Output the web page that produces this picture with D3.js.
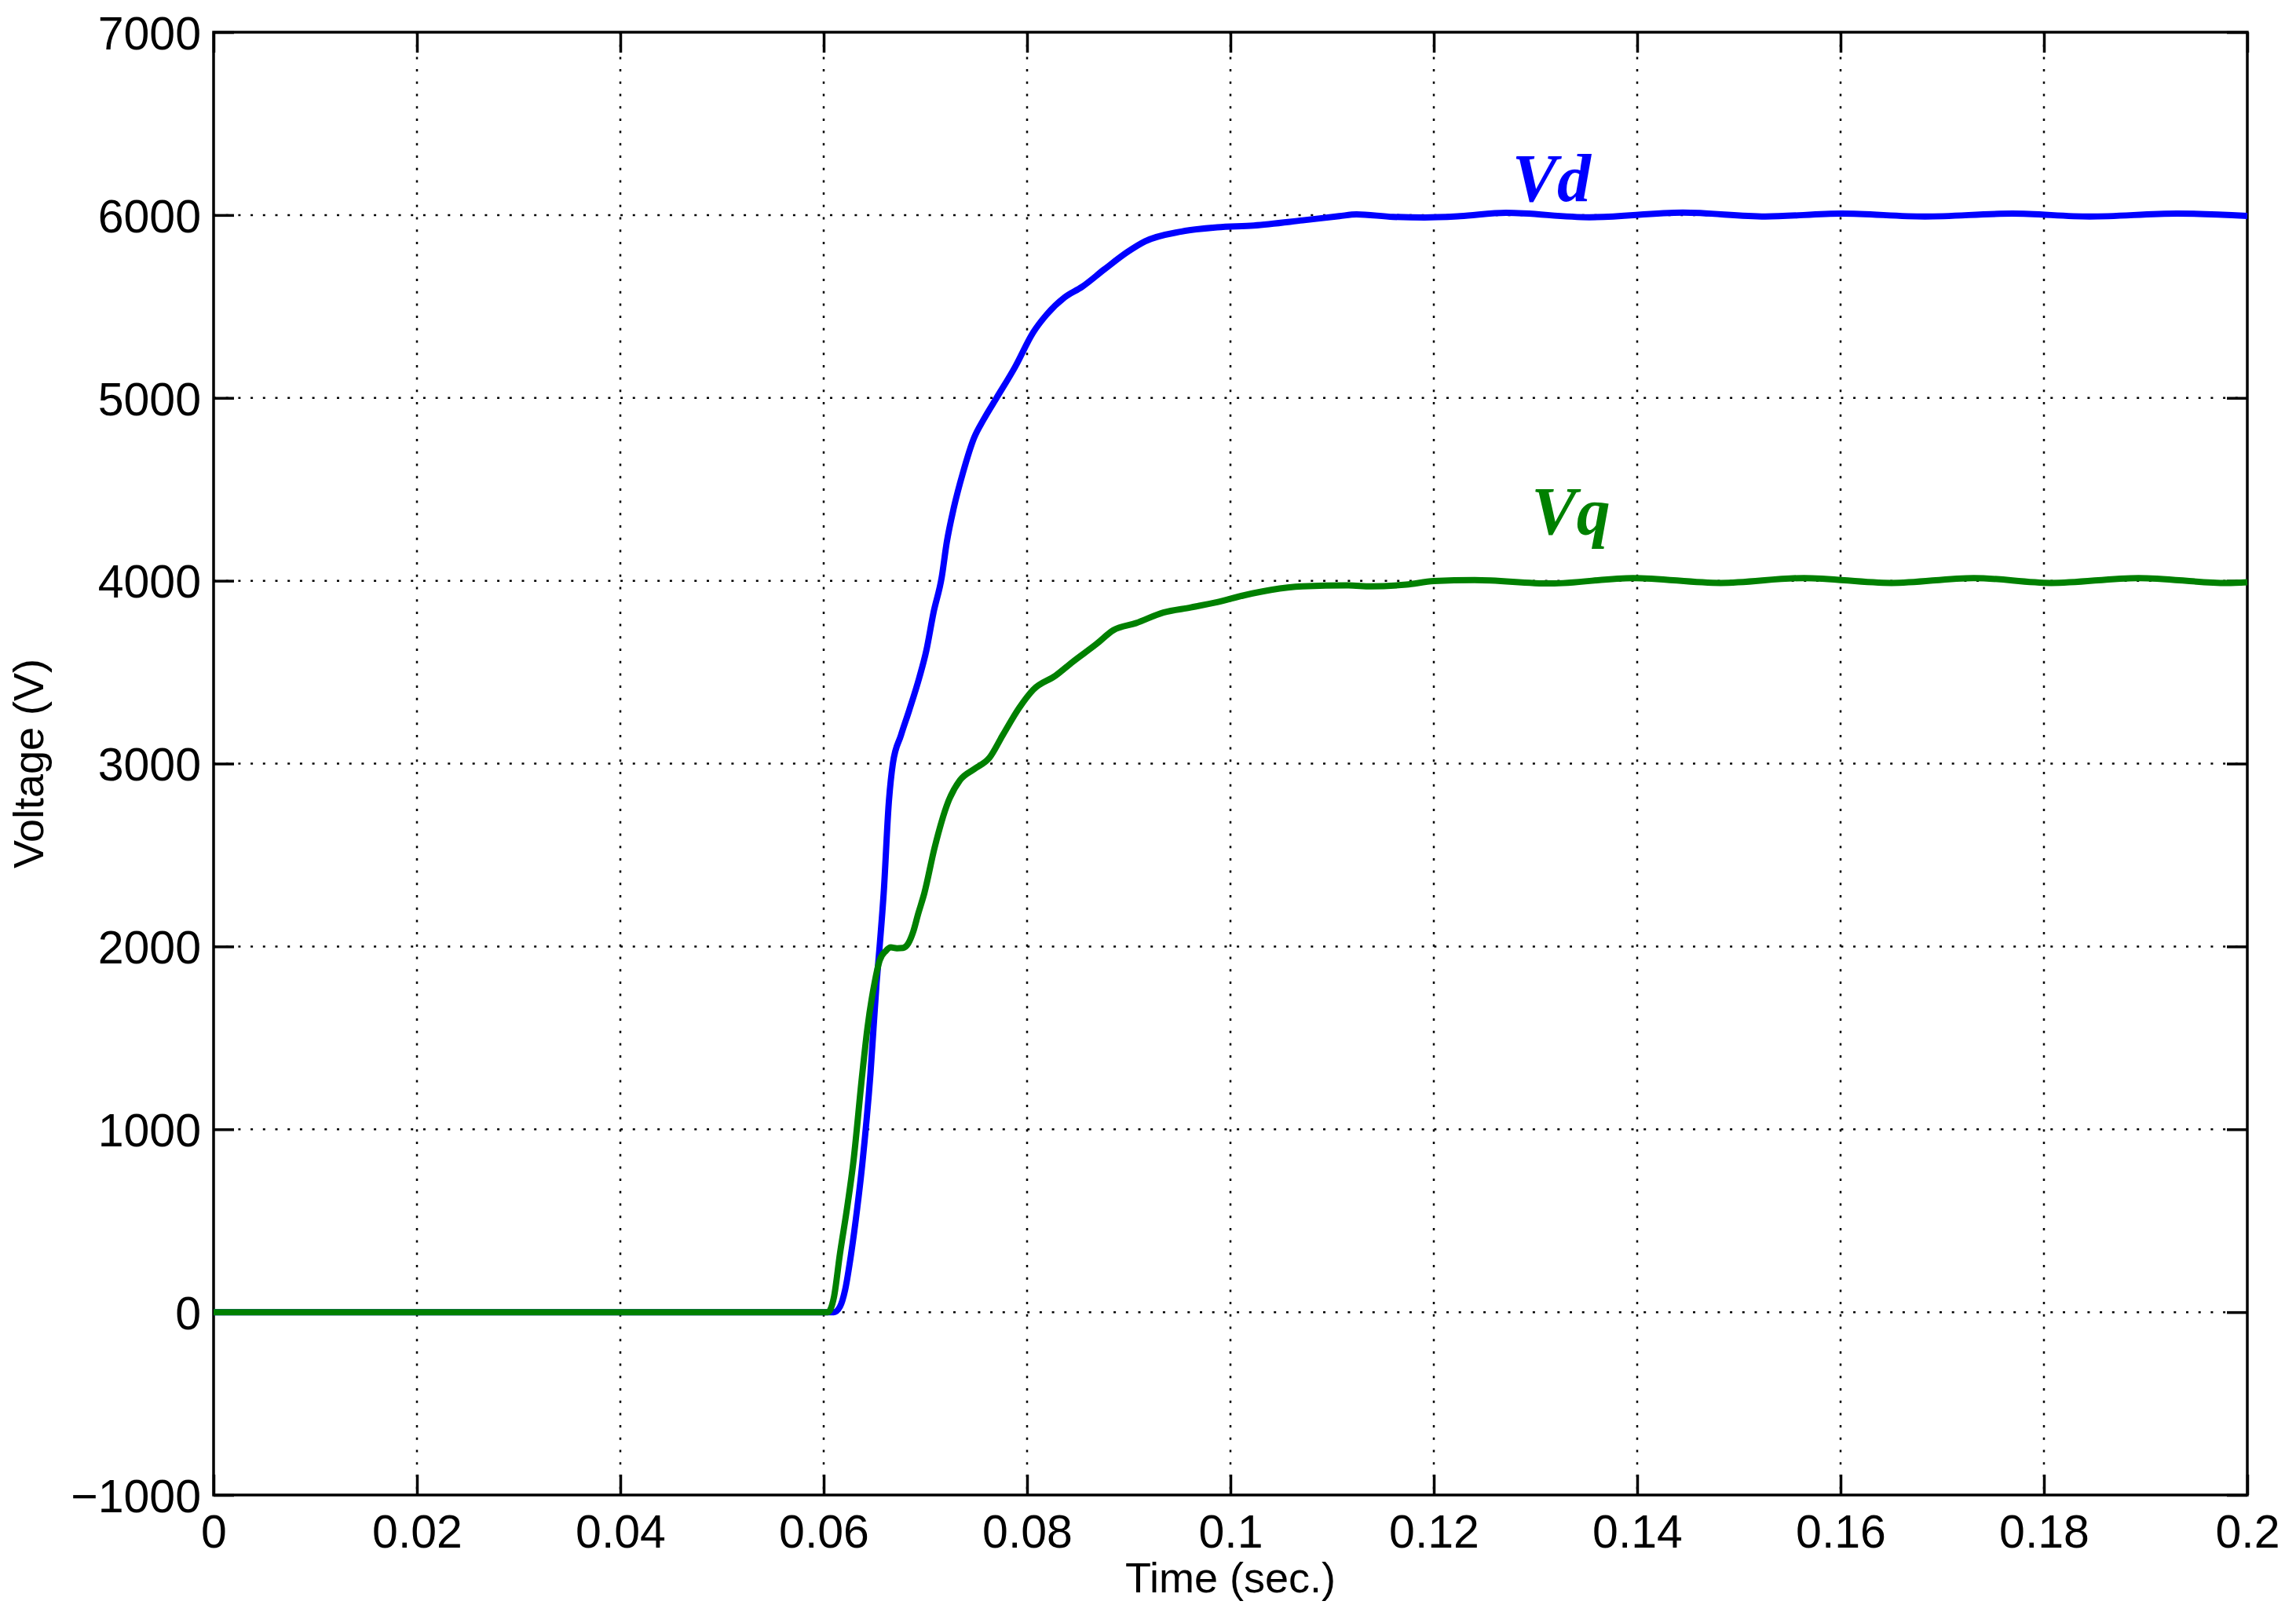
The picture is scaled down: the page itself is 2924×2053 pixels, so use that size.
<!DOCTYPE html>
<html>
<head>
<meta charset="utf-8">
<script src="https://cdn.jsdelivr.net/npm/d3@7"></script>
<style>
  body { margin: 0; background: #fff; }
  svg { display: block; }
</style>
</head>
<body>
<div id="dvBody"></div>
<script>
// tick values
var xTicks = [0, 0.02, 0.04, 0.06, 0.08, 0.1, 0.12, 0.14, 0.16, 0.18, 0.2];
var yTicks = [-1000, 0, 1000, 2000, 3000, 4000, 5000, 6000, 7000];

// Vd series (time in s, voltage in V)
var vdTime = [0, 0.0610, 0.0616, 0.0621, 0.0627, 0.0633, 0.0638, 0.0646, 0.0652, 0.0655,
  0.0659, 0.0664, 0.0668, 0.0676, 0.0684, 0.0694, 0.0701, 0.0708, 0.0716, 0.0721,
  0.0728, 0.0737, 0.0748, 0.0757, 0.0770, 0.0788, 0.0806, 0.0819, 0.0837, 0.0854,
  0.0876, 0.0899, 0.0916, 0.0952, 0.0987, 0.1023, 0.1071, 0.1107, 0.1124, 0.1160,
  0.1191, 0.1226, 0.1271, 0.1353, 0.1445, 0.1526, 0.1601, 0.1683, 0.1769, 0.1845,
  0.1931, 0.2];
var vdValue = [0, 0, 30, 120, 320, 570, 813, 1306, 1800, 2000,
  2292, 2785, 3000, 3155, 3290, 3470, 3620, 3826, 4017, 4209,
  4400, 4592, 4783, 4879, 5000, 5167, 5358, 5454, 5550, 5607,
  5703, 5799, 5856, 5910, 5933, 5943, 5971, 5994, 6004, 5990,
  5987, 5994, 6012, 5988, 6013, 5992, 6008, 5992, 6008, 5992,
  6008, 5995];

// Vq series
var vqTime = [0, 0.0604, 0.0610, 0.0616, 0.0623, 0.0629, 0.0638, 0.0643, 0.0650, 0.0655,
  0.0661, 0.0666, 0.0672, 0.0678, 0.0683, 0.0688, 0.0693, 0.0699, 0.0709, 0.0722,
  0.0734, 0.0748, 0.0763, 0.0776, 0.0792, 0.0806, 0.0828, 0.0845, 0.0868, 0.0885,
  0.0907, 0.0934, 0.0961, 0.0987, 0.1014, 0.1040, 0.1071, 0.1116, 0.1138, 0.1173,
  0.1200, 0.1240, 0.1315, 0.1396, 0.1482, 0.1564, 0.1650, 0.1731, 0.1807, 0.1893,
  0.1980, 0.2];
var vqValue = [0, 0, 80, 320, 570, 813, 1306, 1553, 1800, 1923,
  1975, 1995, 1990, 1992, 2015, 2080, 2180, 2292, 2539, 2785,
  2909, 2970, 3032, 3155, 3303, 3404, 3481, 3557, 3653, 3730,
  3768, 3826, 3854, 3883, 3921, 3950, 3969, 3975, 3969, 3979,
  3998, 4004, 3985, 4015, 3988, 4015, 3988, 4015, 3988, 4015,
  3988, 3992];

var seriesNames = ["Vd", "Vq"];
var seriesColors = ["#0000ff", "#008000"];

var W = 2924, H = 2053;
var margin = {top: 41, right: 62, bottom: 149, left: 272},
    width = W - margin.left - margin.right,
    height = H - margin.top - margin.bottom;

var svg = d3.select("#dvBody")
  .append("svg")
  .attr("width", W)
  .attr("height", H)
  .append("g")
  .attr("transform", "translate(" + margin.left + "," + margin.top + ")");

var x = d3.scaleLinear().domain([0, 0.2]).range([0, width]);
var y = d3.scaleLinear().domain([-1000, 7000]).range([height, 0]);

// dotted grid
svg.append("g")
  .selectAll("line")
  .data(xTicks.slice(1, -1))
  .join("line")
  .attr("x1", d => x(d)).attr("x2", d => x(d))
  .attr("y1", 0).attr("y2", height)
  .attr("stroke", "#000")
  .attr("stroke-width", 2.5)
  .attr("stroke-dasharray", "3,12.7");

svg.append("g")
  .selectAll("line")
  .data(yTicks.slice(1, -1))
  .join("line")
  .attr("y1", d => y(d)).attr("y2", d => y(d))
  .attr("x1", 0).attr("x2", width)
  .attr("stroke", "#000")
  .attr("stroke-width", 2.5)
  .attr("stroke-dasharray", "3,12.7");

// axes, ticks inside on all sides
var tickLen = 26;
var fmtY = d => d < 0 ? "\u2212" + Math.abs(d) : String(d);

var axB = svg.append("g").attr("transform", "translate(0," + height + ")")
  .call(d3.axisBottom(x).tickValues(xTicks).tickSize(-tickLen).tickPadding(25).tickFormat(d => String(+d.toFixed(2))));
var axT = svg.append("g")
  .call(d3.axisTop(x).tickValues(xTicks).tickSize(-tickLen).tickFormat(""));
var axL = svg.append("g")
  .call(d3.axisLeft(y).tickValues(yTicks).tickSize(-tickLen).tickPadding(16).tickFormat(fmtY));
var axR = svg.append("g").attr("transform", "translate(" + width + ",0)")
  .call(d3.axisRight(y).tickValues(yTicks).tickSize(-tickLen).tickFormat(""));

[axB, axT, axL, axR].forEach(function(a) {
  a.select(".domain").remove();
  a.selectAll("line").attr("stroke", "#000").attr("stroke-width", 3.5);
  a.selectAll("text")
    .attr("fill", "#000")
    .style("font-family", "'Liberation Sans', Arial, sans-serif")
    .style("font-size", "59px");
});
axL.selectAll("text").attr("dy", "0.36em");
axB.selectAll("text").attr("dy", "0.71em");

// box
svg.append("rect")
  .attr("x", 0).attr("y", 0)
  .attr("width", width).attr("height", height)
  .attr("fill", "none")
  .attr("stroke", "#000")
  .attr("stroke-width", 3.5);

// curves
var line = d3.line()
  .x(d => x(d[0]))
  .y(d => y(d[1]))
  .curve(d3.curveMonotoneX);

var series = [
  d3.zip(vdTime, vdValue),
  d3.zip(vqTime, vqValue)
];

svg.append("g")
  .selectAll("path")
  .data(series)
  .join("path")
  .attr("fill", "none")
  .attr("stroke", (d, i) => seriesColors[i])
  .attr("stroke-width", 8)
  .attr("stroke-linejoin", "round")
  .attr("d", line);

// curve labels
var labelPos = [[0.1277, 6077], [0.1296, 4256]];
svg.append("g")
  .selectAll("text")
  .data(seriesNames)
  .join("text")
  .attr("x", (d, i) => x(labelPos[i][0]))
  .attr("y", (d, i) => y(labelPos[i][1]))
  .attr("fill", (d, i) => seriesColors[i])
  .style("font-family", "'Liberation Serif', 'Times New Roman', serif")
  .style("font-weight", "bold")
  .style("font-style", "italic")
  .style("font-size", "86px")
  .text(d => d);

// axis titles
svg.append("text")
  .attr("x", width / 2)
  .attr("y", 1987)
  .attr("text-anchor", "middle")
  .style("font-family", "'Liberation Sans', Arial, sans-serif")
  .style("font-size", "54px")
  .text("Time (sec.)");

svg.append("text")
  .attr("transform", "translate(" + (55 - margin.left) + "," + (height / 2) + ") rotate(-90)")
  .attr("text-anchor", "middle")
  .style("font-family", "'Liberation Sans', Arial, sans-serif")
  .style("font-size", "54px")
  .text("Voltage (V)");
</script>
</body>
</html>
